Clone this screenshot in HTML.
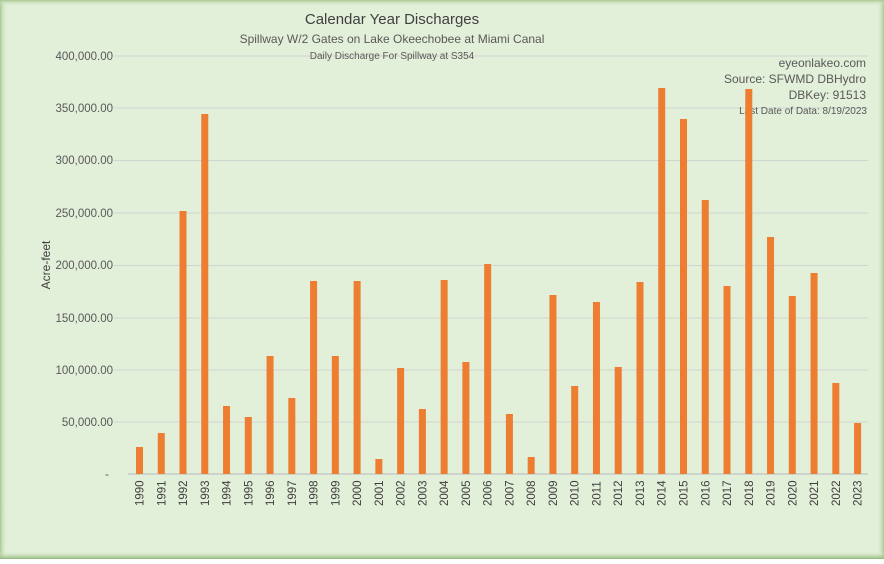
<!DOCTYPE html>
<html><head><meta charset="utf-8"><style>
html,body{margin:0;padding:0;}
body{width:884px;height:559px;overflow:hidden;font-family:"Liberation Sans",sans-serif;}
</style></head><body>
<svg width="884" height="559" xmlns="http://www.w3.org/2000/svg" font-family="Liberation Sans, sans-serif">
<defs>
<linearGradient id="gl" x1="0" x2="1" y1="0" y2="0"><stop offset="0" stop-color="#a8c890"/><stop offset="1" stop-color="#e2efd9" stop-opacity="0"/></linearGradient>
<linearGradient id="gr" x1="1" x2="0" y1="0" y2="0"><stop offset="0" stop-color="#a8c890"/><stop offset="1" stop-color="#e2efd9" stop-opacity="0"/></linearGradient>
<linearGradient id="gt" x1="0" x2="0" y1="0" y2="1"><stop offset="0" stop-color="#a8c890"/><stop offset="1" stop-color="#e2efd9" stop-opacity="0"/></linearGradient>
<linearGradient id="gb" x1="0" x2="0" y1="1" y2="0"><stop offset="0" stop-color="#8fb878"/><stop offset="1" stop-color="#e2efd9" stop-opacity="0"/></linearGradient>
</defs>
<rect width="884" height="559" fill="#e2efd9"/>
<rect x="0" y="0" width="7" height="559" fill="url(#gl)"/>
<rect x="877" y="0" width="7" height="559" fill="url(#gr)"/>
<rect x="0" y="0" width="884" height="6" fill="url(#gt)"/>
<rect x="0" y="551" width="884" height="8" fill="url(#gb)"/>
<g stroke="#d0d4d0" stroke-width="1">
<line x1="114" x2="868" y1="56" y2="56"/><line x1="114" x2="868" y1="108" y2="108"/>
<line x1="114" x2="868" y1="160.5" y2="160.5"/><line x1="114" x2="868" y1="213" y2="213"/>
<line x1="114" x2="868" y1="265.5" y2="265.5"/><line x1="114" x2="868" y1="318" y2="318"/>
<line x1="114" x2="868" y1="370" y2="370"/><line x1="114" x2="868" y1="422" y2="422"/>
</g>
<line x1="128" x2="868" y1="474" y2="474" stroke="#c8ccc8" stroke-width="1.5"/>
<g font-size="11.5" fill="#595959" text-anchor="end">
<text x="113" y="60">400,000.00</text><text x="113" y="112">350,000.00</text>
<text x="113" y="164">300,000.00</text><text x="113" y="217">250,000.00</text>
<text x="113" y="269">200,000.00</text><text x="113" y="322">150,000.00</text>
<text x="113" y="374">100,000.00</text><text x="113" y="426">50,000.00</text>
<text x="109" y="478">-</text>
</g>
<text transform="translate(50,265) rotate(-90)" font-size="12" fill="#404040" text-anchor="middle">Acre-feet</text>
<text x="392" y="24" font-size="15" fill="#404040" text-anchor="middle">Calendar Year Discharges</text>
<text x="392" y="43" font-size="12" fill="#595959" text-anchor="middle">Spillway W/2 Gates on Lake Okeechobee at Miami Canal</text>
<text x="392" y="59" font-size="10" fill="#595959" text-anchor="middle">Daily Discharge For Spillway at S354</text>
<g fill="#595959" text-anchor="end">
<text x="866" y="67" font-size="12">eyeonlakeo.com</text>
<text x="866" y="83" font-size="12">Source: SFWMD DBHydro</text>
<text x="866" y="99" font-size="12">DBKey: 91513</text>
<text x="867" y="114" font-size="10">Last Date of Data: 8/19/2023</text>
</g>
<g fill="#ed7d31">
<rect x="136" y="447" width="7" height="27"/>
<rect x="157.76" y="433" width="7" height="41"/>
<rect x="179.52" y="211" width="7" height="263"/>
<rect x="201.28" y="114" width="7" height="360"/>
<rect x="223.04" y="406" width="7" height="68"/>
<rect x="244.8" y="417" width="7" height="57"/>
<rect x="266.56" y="356" width="7" height="118"/>
<rect x="288.32" y="398" width="7" height="76"/>
<rect x="310.08" y="281" width="7" height="193"/>
<rect x="331.84" y="356" width="7" height="118"/>
<rect x="353.6" y="281" width="7" height="193"/>
<rect x="375.36" y="459" width="7" height="15"/>
<rect x="397.12" y="368" width="7" height="106"/>
<rect x="418.88" y="409" width="7" height="65"/>
<rect x="440.64" y="280" width="7" height="194"/>
<rect x="462.4" y="362" width="7" height="112"/>
<rect x="484.16" y="264" width="7" height="210"/>
<rect x="505.92" y="414" width="7" height="60"/>
<rect x="527.68" y="457" width="7" height="17"/>
<rect x="549.44" y="295" width="7" height="179"/>
<rect x="571.2" y="386" width="7" height="88"/>
<rect x="592.96" y="302" width="7" height="172"/>
<rect x="614.72" y="367" width="7" height="107"/>
<rect x="636.48" y="282" width="7" height="192"/>
<rect x="658.24" y="88" width="7" height="386"/>
<rect x="680" y="119" width="7" height="355"/>
<rect x="701.76" y="200" width="7" height="274"/>
<rect x="723.52" y="286" width="7" height="188"/>
<rect x="745.28" y="89" width="7" height="385"/>
<rect x="767.04" y="237" width="7" height="237"/>
<rect x="788.8" y="296" width="7" height="178"/>
<rect x="810.56" y="273" width="7" height="201"/>
<rect x="832.32" y="383" width="7" height="91"/>
<rect x="854.08" y="423" width="7" height="51"/>
</g>
<g font-size="11.5" fill="#404040">
<text transform="translate(143.5,506) rotate(-90)">1990</text>
<text transform="translate(165.26,506) rotate(-90)">1991</text>
<text transform="translate(187.02,506) rotate(-90)">1992</text>
<text transform="translate(208.78,506) rotate(-90)">1993</text>
<text transform="translate(230.54,506) rotate(-90)">1994</text>
<text transform="translate(252.3,506) rotate(-90)">1995</text>
<text transform="translate(274.06,506) rotate(-90)">1996</text>
<text transform="translate(295.82,506) rotate(-90)">1997</text>
<text transform="translate(317.58,506) rotate(-90)">1998</text>
<text transform="translate(339.34,506) rotate(-90)">1999</text>
<text transform="translate(361.1,506) rotate(-90)">2000</text>
<text transform="translate(382.86,506) rotate(-90)">2001</text>
<text transform="translate(404.62,506) rotate(-90)">2002</text>
<text transform="translate(426.38,506) rotate(-90)">2003</text>
<text transform="translate(448.14,506) rotate(-90)">2004</text>
<text transform="translate(469.9,506) rotate(-90)">2005</text>
<text transform="translate(491.66,506) rotate(-90)">2006</text>
<text transform="translate(513.42,506) rotate(-90)">2007</text>
<text transform="translate(535.18,506) rotate(-90)">2008</text>
<text transform="translate(556.94,506) rotate(-90)">2009</text>
<text transform="translate(578.7,506) rotate(-90)">2010</text>
<text transform="translate(600.46,506) rotate(-90)">2011</text>
<text transform="translate(622.22,506) rotate(-90)">2012</text>
<text transform="translate(643.98,506) rotate(-90)">2013</text>
<text transform="translate(665.74,506) rotate(-90)">2014</text>
<text transform="translate(687.5,506) rotate(-90)">2015</text>
<text transform="translate(709.26,506) rotate(-90)">2016</text>
<text transform="translate(731.02,506) rotate(-90)">2017</text>
<text transform="translate(752.78,506) rotate(-90)">2018</text>
<text transform="translate(774.54,506) rotate(-90)">2019</text>
<text transform="translate(796.3,506) rotate(-90)">2020</text>
<text transform="translate(818.06,506) rotate(-90)">2021</text>
<text transform="translate(839.82,506) rotate(-90)">2022</text>
<text transform="translate(861.58,506) rotate(-90)">2023</text>
</g>
</svg>
</body></html>
